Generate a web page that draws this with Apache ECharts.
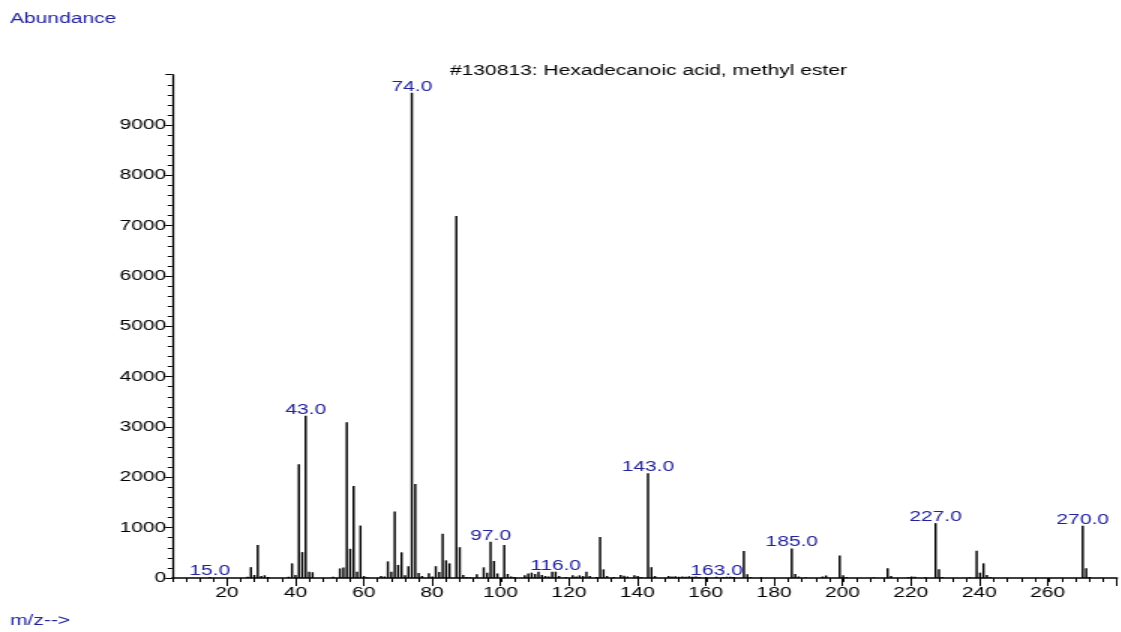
<!DOCTYPE html>
<html>
<head>
<meta charset="utf-8">
<script src="https://cdn.jsdelivr.net/npm/echarts@6/dist/echarts.min.js"></script>
<style>
  html, body { margin: 0; padding: 0; background: #fff; overflow: hidden; }
  /* instrument-style wide rendering: plot drawn narrow, then stretched horizontally */
  #chart { width: 747.33px; height: 632px; transform: scaleX(1.5); transform-origin: 0 0; }
</style>
</head>
<body>
<div id="chart"></div>
<script>
// Mass spectrum of hexadecanoic acid, methyl ester (library entry #130813)
const mzValues = [
  15, 26, 27, 28, 29, 30, 31, 32, 38, 39, 40, 41, 42, 43, 44, 45, 51, 53, 54, 55,
  56, 57, 58, 59, 60, 61, 65, 66, 67, 68, 69, 70, 71, 72, 73, 74, 75, 76, 77, 79,
  80, 81, 82, 83, 84, 85, 87, 88, 89, 90, 91, 93, 95, 96, 97, 98, 99, 101, 102, 103,
  104, 107, 108, 109, 110, 111, 112, 113, 114, 115, 116, 117, 119, 121, 122, 123, 124, 125, 126, 128,
  129, 130, 131, 133, 135, 136, 137, 139, 140, 141, 143, 144, 145, 149, 150, 151, 152, 153, 154, 155,
  156, 157, 158, 160, 163, 165, 166, 167, 168, 171, 172, 173, 176, 185, 186, 187, 189, 194, 195, 199,
  200, 201, 209, 213, 214, 219, 220, 221, 224, 227, 228, 229, 237, 239, 240, 241, 242, 243, 270, 271,
  272
];
const abundances = [
  20, 25, 215, 60, 656, 40, 55, 20, 25, 291, 60, 2262, 514, 3222, 125, 115, 25, 190, 210, 3096,
  580, 1828, 126, 1042, 40, 15, 40, 30, 330, 126, 1320, 260, 510, 55, 235, 9640, 1868, 100, 40, 93,
  30, 235, 120, 880, 351, 291, 7193, 612, 60, 20, 15, 75, 212, 106, 720, 338, 90, 656, 80, 30,
  20, 53, 90, 106, 80, 126, 60, 40, 30, 126, 125, 40, 20, 53, 30, 53, 40, 126, 40, 20,
  815, 172, 40, 20, 60, 46, 30, 55, 40, 20, 2083, 215, 40, 40, 30, 35, 25, 30, 25, 35,
  25, 30, 20, 20, 25, 20, 25, 25, 20, 536, 73, 20, 15, 585, 78, 30, 15, 30, 50, 447,
  53, 20, 15, 192, 40, 20, 30, 25, 15, 1090, 172, 20, 15, 540, 106, 291, 60, 20, 1040, 192,
  20
];
const labelledPeaks = [15, 43, 74, 97, 116, 143, 163, 185, 227, 270];
const xTickLabels = [20, 40, 60, 80, 100, 120, 140, 160, 180, 200, 220, 240, 260];
const yTickLabels = [0, 1000, 2000, 3000, 4000, 5000, 6000, 7000, 8000, 9000];

const FONT = "'Liberation Sans', Arial, sans-serif";
const BLUE = '#22229a';

const chart = echarts.init(document.getElementById('chart'));

const peaks = mzValues.map((m, i) => {
  const item = { value: [m, abundances[i]] };
  if (labelledPeaks.includes(m)) item.label = { show: true };
  return item;
});

chart.setOption({
  animation: false,
  backgroundColor: '#ffffff',
  title: [
    {
      text: 'Abundance', left: 6.7, top: 12, padding: 0,
      textStyle: { color: BLUE, fontSize: 14, fontWeight: 'normal', fontFamily: FONT }
    },
    {
      text: '#130813: Hexadecanoic acid, methyl ester', left: 300, top: 64, padding: 0,
      textStyle: { color: '#000', fontSize: 14, fontWeight: 'normal', fontFamily: FONT }
    },
    {
      text: 'm/z-->', left: 6.7, top: 614, padding: 0,
      textStyle: { color: BLUE, fontSize: 14, fontWeight: 'normal', fontFamily: FONT }
    }
  ],
  grid: [
    { left: 114.8, right: 2.33, top: 74.7, bottom: 54 },
    { left: 151.33, right: 2.33, top: 74.7, bottom: 54 }
  ],
  xAxis: [
    {
      // data axis with the fine 4-unit ticks
      type: 'value', gridIndex: 0, min: 4, max: 280, interval: 4,
      axisLine: { show: true, lineStyle: { color: '#000', width: 1.5 } },
      axisTick: { show: true, length: 4, lineStyle: { color: '#000', width: 1 } },
      axisLabel: { show: false },
      splitLine: { show: false }
    },
    {
      // labelled major ticks every 20
      type: 'value', gridIndex: 1, min: 20, max: 280, interval: 20,
      axisLine: { show: false },
      axisTick: { show: true, length: 8, lineStyle: { color: '#000', width: 1 } },
      axisLabel: {
        show: true, margin: 8, color: '#000', fontSize: 14, fontFamily: FONT,
        formatter: v => (xTickLabels.includes(v) ? String(v) : '')
      },
      splitLine: { show: false }
    }
  ],
  yAxis: [
    {
      type: 'value', gridIndex: 0, min: 0, max: 10000, interval: 1000,
      axisLine: { show: true, lineStyle: { color: '#000', width: 1.3 } },
      axisTick: { show: true, length: 4.5, lineStyle: { color: '#000', width: 1 } },
      minorTick: { show: true, splitNumber: 5, length: 3, lineStyle: { color: '#000', width: 1 } },
      axisLabel: {
        show: true, margin: 4, color: '#000', fontSize: 14, fontFamily: FONT,
        formatter: v => (yTickLabels.includes(v) ? String(v) : '')
      },
      splitLine: { show: false }
    },
    { type: 'value', gridIndex: 1, min: 0, max: 10000, show: false }
  ],
  series: [
    {
      type: 'bar',
      xAxisIndex: 0, yAxisIndex: 0,
      barWidth: 1.45,
      itemStyle: { color: '#000' },
      label: {
        show: false, position: 'top', distance: -1,
        color: BLUE, fontSize: 14, fontFamily: FONT,
        formatter: p => p.value[0].toFixed(1)
      },
      data: peaks
    }
  ]
});
</script>
</body>
</html>
